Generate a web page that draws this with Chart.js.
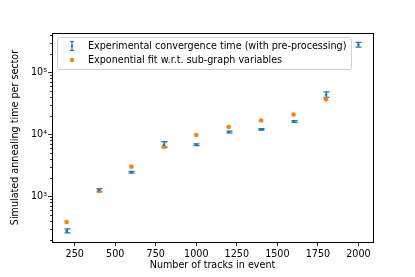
<!DOCTYPE html>
<html>
<head>
<meta charset="utf-8">
<script src="https://cdn.jsdelivr.net/npm/chart.js@4/dist/chart.umd.min.js"></script>
<style>
  body { margin: 0; background: #fff; }
  #wrap { position: relative; width: 415px; height: 277px; }
  #legend {
    position: absolute; left: 57px; top: 37px; width: 293px; height: 31px;
    border: 1px solid #d0d0d0; border-radius: 3px; background: rgba(255,255,255,0.8);
    font: 9.6px "DejaVu Sans", sans-serif; color: #000;
  }
  .row { position: absolute; left: 30px; white-space: nowrap; line-height: 12px; }
  .mk { position: absolute; left: -21px; top: 0; }
</style>
</head>
<body>
<div id="wrap">
  <canvas id="chart" width="415" height="277"></canvas>
  <div id="legend">
    <div class="row" style="top:2px">
      <svg class="mk" width="10" height="12"><line x1="5" y1="1.5" x2="5" y2="10.5" stroke="#1f77b4" stroke-width="1.2"/><line x1="3" y1="1.5" x2="7" y2="1.5" stroke="#1f77b4" stroke-width="1.2"/><line x1="3" y1="10.5" x2="7" y2="10.5" stroke="#1f77b4" stroke-width="1.2"/><circle cx="5" cy="6" r="1.2" fill="#1f77b4"/></svg>
      Experimental convergence time (with pre-processing)
    </div>
    <div class="row" style="top:16px">
      <svg class="mk" width="10" height="12"><circle cx="5" cy="6" r="2.2" fill="#ff7f0e"/></svg>
      Exponential fit w.r.t. sub-graph variables
    </div>
  </div>
</div>
<script>
// number of tracks per event
const tracks = [200, 400, 600, 800, 1000, 1200, 1400, 1600, 1800, 2000];
// measured annealing time with its error band
const expTime = [279, 1260, 2450, 6800, 6800, 10900, 12000, 16100, 43600, 277000];
const expLow  = [260, 1190, 2380, 6200, 6600, 10600, 11700, 15600, 39400, 254000];
const expHigh = [300, 1340, 2530, 7600, 7000, 11300, 12300, 16600, 48400, 302000];
// exponential fit (no point at 2000)
const fitTracks = [200, 400, 600, 800, 1000, 1200, 1400, 1600, 1800];
const fitTime = [388, 1230, 3020, 6310, 9770, 13100, 16700, 20900, 36600];
const xTicks = [250, 500, 750, 1000, 1250, 1500, 1750, 2000];
const yMajor = { 1000: '10³', 10000: '10⁴', 100000: '10⁵' };

const BLUE = '#1f77b4', ORANGE = '#ff7f0e';
const FONT = { family: 'DejaVu Sans', size: 9.6 };

function isMajor(v) { return yMajor[v] !== undefined; }

// draws caps + bars for the experimental series, and the minor y ticks and frame
const extras = {
  id: 'extras',
  beforeDatasetsDraw(chart) {
    const { ctx, scales: { x, y } } = chart;
    ctx.save();
    ctx.strokeStyle = BLUE;
    ctx.lineWidth = 1.3;
    tracks.forEach((t, i) => {
      const px = Math.round(x.getPixelForValue(t)) + 0.5;
      const lo = y.getPixelForValue(expLow[i]);
      const hi = y.getPixelForValue(expHigh[i]);
      ctx.beginPath();
      ctx.moveTo(px, lo); ctx.lineTo(px, hi);
      ctx.moveTo(px - 3, lo); ctx.lineTo(px + 3, lo);
      ctx.moveTo(px - 3, hi); ctx.lineTo(px + 3, hi);
      ctx.stroke();
    });
    ctx.restore();
  },
  afterDraw(chart) {
    const { ctx, chartArea: a, scales: { y } } = chart;
    ctx.save();
    ctx.strokeStyle = '#000';
    ctx.lineWidth = 0.8;
    ctx.beginPath();
    y.ticks.forEach(tk => {
      if (isMajor(tk.value)) return;
      const py = Math.round(y.getPixelForValue(tk.value)) + 0.5;
      ctx.moveTo(a.left, py); ctx.lineTo(a.left - 2, py);
    });
    ctx.stroke();
    ctx.lineWidth = 1;
    ctx.strokeRect(Math.round(a.left) + 0.5, Math.round(a.top) + 0.5,
      Math.round(a.right - a.left), Math.round(a.bottom - a.top));
    ctx.restore();
  }
};

new Chart(document.getElementById('chart'), {
  type: 'scatter',
  data: {
    datasets: [
      {
        label: 'Experimental convergence time (with pre-processing)',
        data: tracks.map((t, i) => ({ x: t, y: expTime[i] })),
        backgroundColor: BLUE, borderColor: BLUE,
        pointRadius: 1.3, borderWidth: 0
      },
      {
        label: 'Exponential fit w.r.t. sub-graph variables',
        data: fitTracks.map((t, i) => ({ x: t, y: fitTime[i] })),
        backgroundColor: ORANGE, borderColor: ORANGE,
        pointRadius: 2.3, borderWidth: 0
      }
    ]
  },
  options: {
    responsive: false,
    animation: false,
    events: [],
    layout: { padding: { top: 33, right: 42, left: 0, bottom: 0 } },
    plugins: { legend: { display: false }, tooltip: { enabled: false } },
    scales: {
      x: {
        type: 'linear', min: 110, max: 2090,
        afterBuildTicks: s => { s.ticks = xTicks.map(v => ({ value: v })); },
        afterFit: s => { s.height = 35; },
        ticks: { color: '#000', font: FONT, padding: 3, maxRotation: 0, autoSkip: false, callback: v => String(v) },
        grid: { drawOnChartArea: false, tickLength: 4, tickColor: '#000', tickWidth: 0.8 },
        border: { display: true, color: '#000', width: 1 },
        title: { display: true, text: 'Number of tracks in event', color: '#000', font: FONT, padding: { top: 0, bottom: 6 } }
      },
      y: {
        type: 'logarithmic', min: 185, max: 428000,
        afterBuildTicks: s => {
          const list = [];
          for (let e = 2; e <= 5; e++) {
            for (let m = 1; m <= 9; m++) {
              const v = m * Math.pow(10, e);
              if (v >= s.min && v <= s.max) list.push({ value: v, major: m === 1 });
            }
          }
          s.ticks = list;
        },
        afterFit: s => { s.width = 52; },
        ticks: {
          color: '#000', font: FONT, padding: 1, autoSkip: false,
          callback: v => yMajor[v] || ''
        },
        grid: {
          drawOnChartArea: false, tickLength: 4, tickWidth: 0.8,
          tickColor: c => (c.tick && isMajor(c.tick.value)) ? '#000' : 'rgba(0,0,0,0)'
        },
        border: { display: true, color: '#000', width: 1 },
        title: { display: true, text: 'Simulated annealing time per sector', color: '#000', font: FONT, padding: { top: 10, bottom: 0 } }
      }
    }
  },
  plugins: [extras]
});
</script>
</body>
</html>
